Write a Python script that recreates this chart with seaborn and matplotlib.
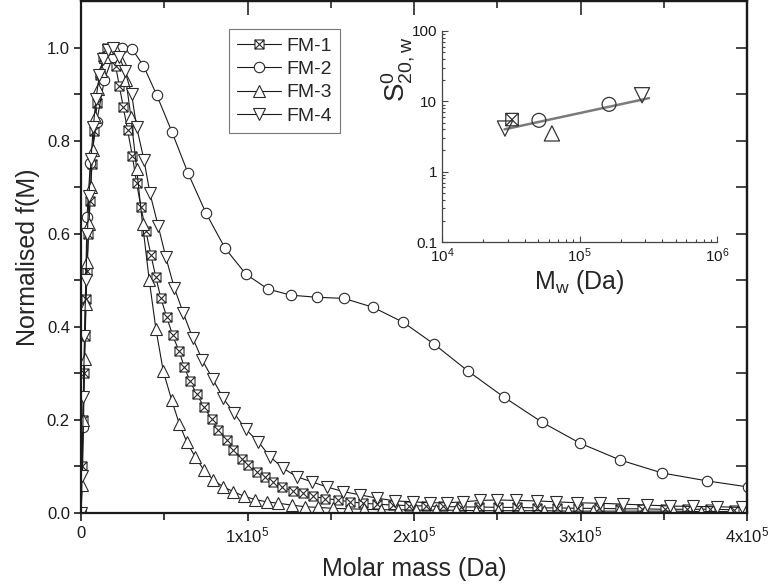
"""
Normalised molar mass distributions f(M) for FM-1..FM-4,
with an inset of sedimentation coefficient vs weight-average molar mass.
"""
import numpy as np
import matplotlib
matplotlib.use('Agg')
import matplotlib.pyplot as plt
from matplotlib.path import Path
from matplotlib.ticker import MultipleLocator, FixedLocator, FuncFormatter, LogLocator
import seaborn as sns

# --- main panel data: molar mass (Da) and normalised f(M) ---
m1 = [0, 600, 1200, 1800, 2400, 3000, 3600, 4400, 5400, 6600,
      8000, 9600, 11400, 13200, 15400, 18400, 20800, 23000, 25400, 28000,
      30800, 33400, 36000, 39000, 42000, 45000, 48000, 51500, 55000, 58900,
      62000, 65500, 69500, 73900, 78500, 82500, 87500, 91500, 96500, 100500,
      105500, 110500, 115500, 120500, 127500, 133300, 139300, 146500, 154300, 161500,
      169400, 177800, 187400, 197000, 207000, 217500, 228000, 239000, 250500, 262000,
      274000, 286000, 298500, 311000, 324000, 337000, 350500, 364000, 378000, 392000]
f1 = [0.0, 0.10, 0.20, 0.30, 0.38, 0.46, 0.52, 0.60, 0.67, 0.75,
      0.82, 0.88, 0.94, 0.98, 1.0, 0.99, 0.96, 0.918, 0.872, 0.822,
      0.768, 0.709, 0.657, 0.605, 0.554, 0.506, 0.461, 0.421, 0.382, 0.348,
      0.314, 0.283, 0.255, 0.228, 0.201, 0.178, 0.157, 0.135, 0.117, 0.103,
      0.089, 0.078, 0.067, 0.056, 0.047, 0.043, 0.036, 0.031, 0.028, 0.024,
      0.021, 0.019, 0.017, 0.016, 0.015, 0.014, 0.013, 0.013, 0.012, 0.012,
      0.011, 0.011, 0.010, 0.010, 0.009, 0.009, 0.008, 0.008, 0.008, 0.007]

m2 = [0, 1200, 3600, 5600, 9400, 14000, 19000, 24600, 30600, 37500,
      45600, 54700, 64300, 75100, 86500, 99100, 112300, 126100, 141700, 158000,
      175400, 193400, 212000, 232400, 254000, 276900, 299700, 323700, 349000, 376000,
      400600]
f2 = [0.0, 0.185, 0.637, 0.751, 0.840, 0.930, 0.980, 1.000, 0.997, 0.961,
      0.897, 0.818, 0.730, 0.644, 0.569, 0.513, 0.481, 0.468, 0.4635, 0.461,
      0.442, 0.410, 0.363, 0.305, 0.249, 0.195, 0.150, 0.114, 0.086, 0.069,
      0.056]

m3 = [0, 800, 1500, 2200, 3000, 3800, 4800, 5800, 7000, 8400,
      10000, 12000, 14200, 17000, 20400, 23600, 27000, 30000, 33400, 37000,
      41000, 45000, 49400, 54500, 59000, 63500, 68500, 73900, 79500, 85500,
      91500, 97900, 104500, 111500, 118500, 126500, 134500, 142500, 151400, 160500,
      170000, 180000, 190500, 201500, 213000, 225000, 237500, 250500, 264000, 278000,
      292500, 307500, 323000, 339000, 355500, 372500, 390000]
f3 = [0.0, 0.06, 0.20, 0.33, 0.45, 0.54, 0.62, 0.70, 0.78, 0.85,
      0.91, 0.95, 0.98, 1.0, 1.0, 0.975, 0.93, 0.85, 0.74, 0.62,
      0.50, 0.395, 0.305, 0.242, 0.192, 0.153, 0.121, 0.092, 0.071, 0.056,
      0.046, 0.036, 0.029, 0.024, 0.021, 0.017, 0.0135, 0.012, 0.010, 0.009,
      0.008, 0.007, 0.007, 0.006, 0.006, 0.006, 0.005, 0.005, 0.005, 0.005,
      0.004, 0.004, 0.004, 0.004, 0.004, 0.003, 0.003]

m4 = [0, 700, 1400, 2100, 2900, 3800, 4800, 6000, 7400, 9000,
      11000, 13400, 16200, 19400, 23000, 26400, 30400, 33400, 37800, 41400,
      46400, 51000, 56000, 61400, 67000, 72900, 79100, 85500, 92100, 98900,
      106500, 113500, 121500, 129500, 138600, 147600, 157500, 167600, 177600, 188600,
      199600, 209600, 219600, 229600, 239500, 250000, 261500, 273700, 285500, 297700,
      311700, 325700, 339700, 353700, 367700, 381700, 396700]
f4 = [0.0, 0.08, 0.25, 0.38, 0.50, 0.60, 0.68, 0.76, 0.83, 0.89,
      0.94, 0.975, 0.995, 1.0, 0.98, 0.95, 0.90, 0.829, 0.759, 0.687,
      0.616, 0.549, 0.484, 0.430, 0.377, 0.328, 0.288, 0.246, 0.214, 0.180,
      0.153, 0.121, 0.096, 0.078, 0.067, 0.056, 0.046, 0.039, 0.032, 0.026,
      0.024, 0.022, 0.022, 0.024, 0.027, 0.028, 0.027, 0.026, 0.024, 0.022,
      0.021, 0.019, 0.017, 0.015, 0.014, 0.0135, 0.012]

labels = ['FM-1', 'FM-2', 'FM-3', 'FM-4']

# --- inset data: Mw (Da) vs s0_20,w ---
mw1, s1 = [32300], [5.5]
mw2, s2 = [50700, 164000], [5.37, 9.06]
mw3, s3 = [63000], [3.5]
mw4, s4 = [28700, 285000], [4.1, 12.2]
fit_mw, fit_s = [28500, 320000], [4.0, 11.1]

x_ticks = [0, 1e5, 2e5, 3e5, 4e5]
x_ticklabels = ['0', r'1x10$^5$', r'2x10$^5$', r'3x10$^5$', r'4x10$^5$']

sns.set_theme(style='ticks')
plt.rcParams['font.family'] = ['Liberation Sans', 'DejaVu Sans']
plt.rcParams['mathtext.fontset'] = 'custom'
plt.rcParams['mathtext.rm'] = 'Liberation Sans'
plt.rcParams['mathtext.it'] = 'Liberation Sans:italic'
plt.rcParams['mathtext.bf'] = 'Liberation Sans:bold'

# square with a cross inside (FM-1 marker)
box_x = Path([(-1, -1), (1, -1), (1, 1), (-1, 1), (-1, -1),
              (-1, -1), (1, 1), (-1, 1), (1, -1)],
             [Path.MOVETO, Path.LINETO, Path.LINETO, Path.LINETO, Path.CLOSEPOLY,
              Path.MOVETO, Path.LINETO, Path.MOVETO, Path.LINETO])

markers = [box_x, 'o', '^', 'v']
msizes = [6.5, 7.5, 8.5, 8.5]
series = [(m1, f1), (m2, f2), (m3, f3), (m4, f4)]
edge = '#2a2a2a'

fig = plt.figure(figsize=(7.74, 5.84), dpi=100)
ax = fig.add_axes([81 / 774, 71 / 584, 666 / 774, 512 / 584])

for (m, f), lab, mk, ms in zip(series, labels, markers, msizes):
    sns.lineplot(x=m, y=f, ax=ax, color='#1a1a1a', linewidth=0.8, marker=mk,
                 markersize=ms, markerfacecolor='white', markeredgecolor=edge,
                 markeredgewidth=0.8, label=lab, sort=False)

ax.set_xlim(0, 4e5)
ax.set_ylim(0, 1.1)
ax.xaxis.set_major_locator(FixedLocator(x_ticks))
ax.set_xticklabels(x_ticklabels)
ax.xaxis.set_minor_locator(MultipleLocator(5e4))
ax.yaxis.set_major_locator(FixedLocator([0, 0.2, 0.4, 0.6, 0.8, 1.0]))
ax.yaxis.set_major_formatter(FuncFormatter(lambda v, p: f'{v:.1f}'))
ax.yaxis.set_minor_locator(FixedLocator([0.1, 0.3, 0.5, 0.7, 0.9]))
ax.tick_params(which='both', direction='out', width=1.2, labelsize=12, colors='k')
ax.tick_params(axis='x', which='major', length=6, pad=3)
ax.tick_params(axis='x', which='minor', length=5)
ax.tick_params(axis='y', which='both', length=5, pad=3)
for sp in ax.spines.values():
    sp.set_linewidth(1.6)
    sp.set_color('k')

# top and right ticks point inward
top = ax.secondary_xaxis('top')
top.xaxis.set_major_locator(FixedLocator(x_ticks))
top.xaxis.set_minor_locator(MultipleLocator(5e4))
top.tick_params(which='both', direction='in', labeltop=False, width=1.2)
top.tick_params(which='major', length=10)
top.tick_params(which='minor', length=5)
top.spines['top'].set_linewidth(1.6)
right = ax.secondary_yaxis('right')
right.yaxis.set_major_locator(MultipleLocator(0.1))
right.tick_params(which='both', direction='in', labelright=False, width=1.2, length=8)
right.spines['right'].set_linewidth(1.6)

ax.set_xlabel('Molar mass (Da)', fontsize=18, labelpad=8)
ax.set_ylabel('Normalised f(M)', fontsize=18, labelpad=5)

leg = ax.legend(loc='upper left', bbox_to_anchor=(0.222, 0.945), borderaxespad=0,
                fontsize=14, frameon=True, fancybox=False, handlelength=2.3,
                handletextpad=0.25, labelspacing=0.3, borderpad=0.4)
leg.get_frame().set_edgecolor('#555555')
leg.get_frame().set_linewidth(0.8)

# --- inset ---
ins = fig.add_axes([442 / 774, 342 / 584, 275 / 774, 211 / 584])
ins.set_xscale('log')
ins.set_yscale('log')
sns.lineplot(x=fit_mw, y=fit_s, ax=ins, color='#7a7a7a', linewidth=1.8)
for (mw, s), mk, sz in zip([(mw1, s1), (mw2, s2), (mw3, s3), (mw4, s4)],
                           markers, [80, 100, 120, 120]):
    sns.scatterplot(x=mw, y=s, ax=ins, marker=mk, s=sz, facecolor='none',
                    edgecolor='#333333', linewidth=0.9, zorder=3)
ins.set_xlim(1e4, 1e6)
ins.set_ylim(0.1, 100)
ins.patch.set_alpha(0)
sns.despine(ax=ins)
for sp in ins.spines.values():
    sp.set_linewidth(0.9)
    sp.set_color('#444444')
ins.xaxis.set_major_locator(LogLocator(base=10, numticks=10))
ins.xaxis.set_minor_locator(LogLocator(base=10, subs=np.arange(2, 10), numticks=10))
ins.yaxis.set_major_locator(LogLocator(base=10, numticks=10))
ins.yaxis.set_minor_locator(LogLocator(base=10, subs=np.arange(2, 10), numticks=10))
ins.yaxis.set_major_formatter(FuncFormatter(lambda v, p: f'{v:g}'))
ins.yaxis.set_minor_formatter(FuncFormatter(lambda v, p: ''))
ins.tick_params(which='both', direction='in', colors='#444444', labelcolor='k',
                labelsize=11, width=0.8)
ins.tick_params(which='major', length=4)
ins.tick_params(which='minor', length=2)
ins.set_xlabel(r'M$_\mathrm{w}$ (Da)', fontsize=18, labelpad=2)
ins.set_ylabel(r'S$^\mathrm{0}_\mathrm{20,w}$', fontsize=20, labelpad=0)
ins.yaxis.set_label_coords(-0.09, 0.82)

plt.savefig('out.png', dpi=100)
